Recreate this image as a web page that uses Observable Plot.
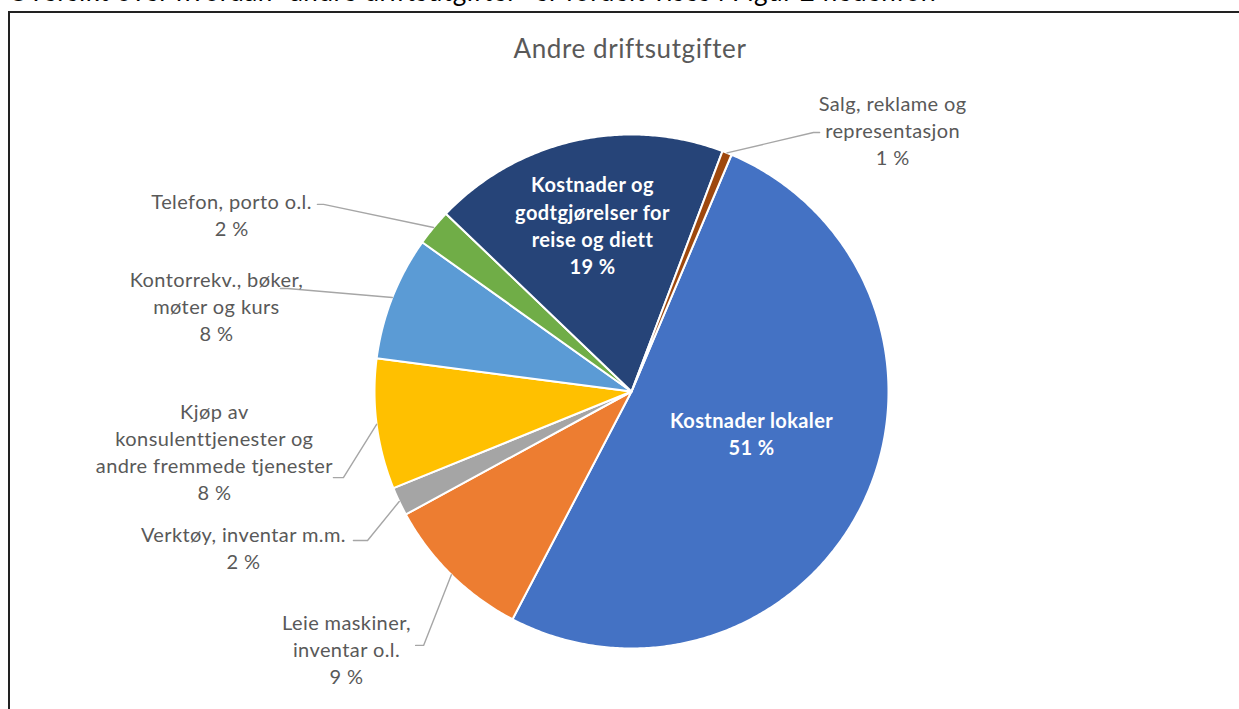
<!DOCTYPE html>
<html>
<head>
<meta charset="utf-8">
<script src="https://cdn.jsdelivr.net/npm/d3@7"></script>
<script src="https://cdn.jsdelivr.net/npm/@observablehq/plot@0.6"></script>
<style>
  html, body { margin: 0; padding: 0; background: #fff; overflow: hidden; }
  #page { position: relative; width: 1239px; height: 709px; overflow: hidden; }
  #intro { position: absolute; left: 8px; top: -22px; font-family: Lato, sans-serif; font-size: 26px; line-height: 26px; letter-spacing: 0.55px; color: #000; white-space: nowrap; }
  #frame { position: absolute; left: 8px; top: 11px; width: 1260px; height: 740px; border: 2px solid #222; box-sizing: border-box; }
  #title { position: absolute; left: 0; width: 1260px; top: 32px; text-align: center; font-family: Lato, sans-serif; font-size: 26px; letter-spacing: 0.6px; color: #595959; }
  #chart { position: absolute; left: 0; top: 0; }
  #chart svg text { letter-spacing: 0.4px; }
</style>
</head>
<body>
<div id="page">
  <div id="intro">Oversikt over hvordan "andre driftsutgifter" er fordelt vises i Figur 2 nedenfor.</div>
  <div id="frame"></div>
  <div id="title">Andre driftsutgifter</div>
  <div id="chart"></div>
</div>
<script>
// ---- data ----
const categories = [
  "Kostnader lokaler",
  "Leie maskiner, inventar o.l.",
  "Verktøy, inventar m.m.",
  "Kjøp av konsulenttjenester og andre fremmede tjenester",
  "Kontorrekv., bøker, møter og kurs",
  "Telefon, porto o.l.",
  "Kostnader og godtgjørelser for reise og diett",
  "Salg, reklame og representasjon"
];
const shares = [51.3, 9.4, 1.8, 8.2, 7.8, 2.3, 18.6, 0.6];
const labelLines = [
  "Kostnader lokaler",
  "Leie maskiner,\ninventar o.l.",
  "Verktøy, inventar m.m.",
  "Kjøp av\nkonsulenttjenester og\nandre fremmede tjenester",
  "Kontorrekv., bøker,\nmøter og kurs",
  "Telefon, porto o.l.",
  "Kostnader og\ngodtgjørelser for\nreise og diett",
  "Salg, reklame og\nrepresentasjon"
];
const sliceColors = ["#4472C4", "#ED7D31", "#A5A5A5", "#FFC000", "#5B9BD5", "#70AD47", "#264478", "#9E480E"];
const inside = [true, false, false, false, false, false, true, false];

// ---- layout (unit-radius coordinates, style only) ----
const startAngleDeg = 22.9;
const labelPos = [
  [0.467, 0.161], [-1.109, 1.0], [-1.510, 0.603], [-1.623, 0.230],
  [-1.615, -0.335], [-1.556, -0.691], [-0.152, -0.650], [1.016, -1.021]
];
const leaderElbow = [
  null, [-0.809, 0.988], [-1.027, 0.580], [-1.121, 0.335],
  [-1.339, -0.401], [-1.198, -0.728], null, [0.708, -1.008]
];
const leaderEnd = [
  null, [-0.840, 0.988], [-1.082, 0.580], [-1.160, 0.335],
  [-1.366, -0.401], [-1.222, -0.728], null, [0.732, -1.008]
];

// ---- derived geometry ----
const total = d3.sum(shares);
const rad = d => d * Math.PI / 180;
let acc = startAngleDeg;
const slices = categories.map((name, i) => {
  const a0 = acc, a1 = acc + shares[i] / total * 360;
  acc = a1;
  return {name, i, a0, a1, mid: (a0 + a1) / 2};
});
const pieRows = [];
for (const s of slices) {
  pieRows.push({name: s.name, x: 0, y: 0});
  const n = Math.max(2, Math.ceil((s.a1 - s.a0) / 0.5));
  for (let k = 0; k <= n; k++) {
    const a = rad(s.a0 + (s.a1 - s.a0) * k / n);
    pieRows.push({name: s.name, x: Math.sin(a), y: -Math.cos(a)});
  }
}
const leaderRows = [];
slices.forEach((s, i) => {
  if (!leaderElbow[i]) return;
  const a = rad(s.mid);
  leaderRows.push({name: s.name, x: Math.sin(a), y: -Math.cos(a)});
  leaderRows.push({name: s.name, x: leaderElbow[i][0], y: leaderElbow[i][1]});
  leaderRows.push({name: s.name, x: leaderEnd[i][0], y: leaderEnd[i][1]});
});
const labels = slices.map((s, i) => ({
  name: s.name,
  x: labelPos[i][0], y: labelPos[i][1],
  text: `${labelLines[i]}\n${Math.round(shares[i])} %`,
  inside: inside[i]
}));

const W = 1239, H = 709, CX = 631, CY = 391, R = 257;
const chart = Plot.plot({
  width: W, height: H,
  margin: 0,
  x: {domain: [-CX / R, (W - CX) / R], range: [0, W], axis: null},
  y: {domain: [-CY / R, (H - CY) / R], range: [0, H], axis: null},
  color: {domain: categories, range: sliceColors},
  style: {fontFamily: "Lato, sans-serif", background: "transparent"},
  marks: [
    Plot.line(pieRows, {x: "x", y: "y", z: "name", fill: "name", stroke: "white", strokeWidth: 2, strokeLinejoin: "round", curve: "linear-closed"}),
    Plot.line(leaderRows, {x: "x", y: "y", z: "name", stroke: "#A6A6A6", strokeWidth: 1.4}),
    Plot.text(labels.filter(d => !d.inside), {x: "x", y: "y", text: "text", fill: "#595959", fontSize: 20, lineHeight: 1.36, textAnchor: "middle", lineAnchor: "middle"}),
    Plot.text(labels.filter(d => d.inside), {x: "x", y: "y", text: "text", fill: "white", fontSize: 20, fontWeight: "bold", lineHeight: 1.36, textAnchor: "middle", lineAnchor: "middle"})
  ]
});
document.getElementById("chart").appendChild(chart);
</script>
</body>
</html>
